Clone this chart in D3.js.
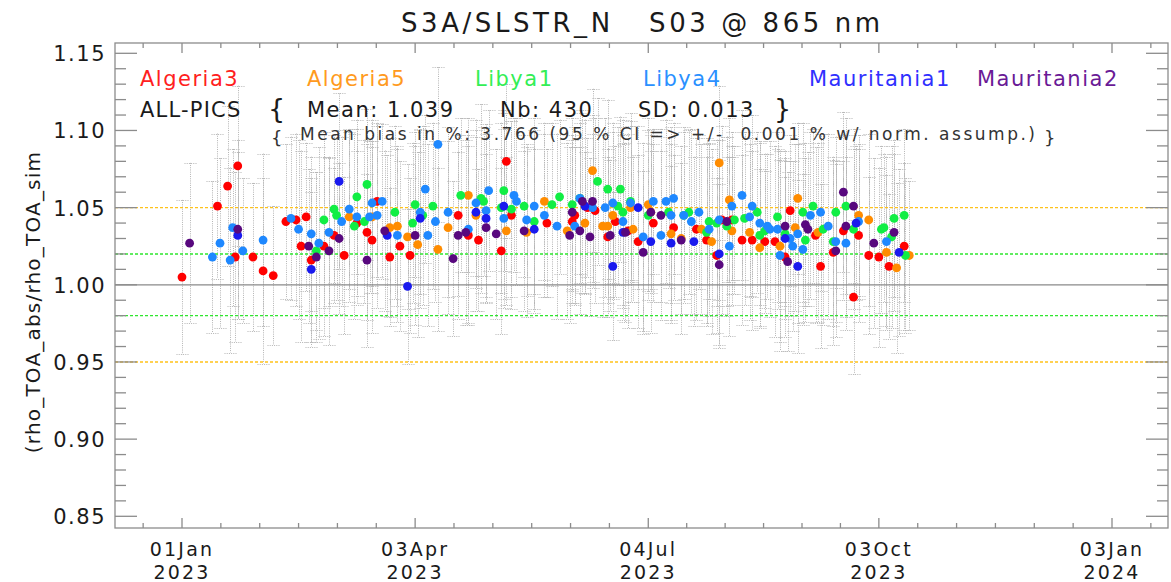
<!DOCTYPE html>
<html><head><meta charset="utf-8">
<script src="https://cdn.jsdelivr.net/npm/d3@7"></script>
<style>body{margin:0;background:#fff}svg{display:block}text{font-family:"DejaVu Sans",sans-serif}</style>
</head><body><svg id="c" width="1171" height="582"></svg>
<script>
// ---- data: [daysSince 01Jan2023, ratio, uncertainty]
const algeria3 = [[0,1.005,0.050],[14,1.051,0.047],[18,1.064,0.052],[22,1.077,0.052],[21,1.018,0.055],[28,1.018,0.048],[32,1.009,0.060],[36,1.006,0.045],[41,1.041,0.050],[45,1.042,0.056],[47,1.025,0.062],[49,1.044,0.048],[51,1.016,0.053],[56,1.025,0.058],[60,1.032,0.044],[64,1.019,0.051],[69,1.040,0.047],[73,1.034,0.057],[75,1.029,0.060],[77,1.054,0.049],[82,1.018,0.045],[86,1.025,0.055],[90,1.019,0.050],[109,1.045,0.052],[113,1.032,0.058],[117,1.029,0.046],[126,1.022,0.054],[128,1.080,0.050],[130,1.045,0.061],[144,1.040,0.048],[154,1.041,0.053],[155,1.045,0.057],[160,1.050,0.045],[163,1.048,0.060],[168,1.031,0.052],[171,1.041,0.049],[176,1.035,0.063],[180,1.028,0.056],[186,1.040,0.051],[194,1.037,0.047],[203,1.036,0.059],[207,1.029,0.054],[211,1.019,0.050],[213,1.042,0.061],[217,1.042,0.048],[221,1.029,0.055],[225,1.029,0.058],[230,1.028,0.046],[234,1.028,0.062],[238,1.018,0.052],[240,1.048,0.049],[250,1.032,0.057],[252,1.012,0.053],[257,1.021,0.060],[261,1.035,0.045],[265,0.992,0.050],[267,1.032,0.056],[271,1.019,0.051],[275,1.018,0.058],[279,1.012,0.047],[285,1.025,0.054]];
const algeria5 = [[66,1.044,0.055],[75,1.044,0.049],[82,1.037,0.058],[85,1.038,0.052],[89,1.031,0.047],[93,1.026,0.060],[101,1.023,0.053],[105,1.037,0.056],[113,1.058,0.050],[116,1.045,0.062],[128,1.035,0.048],[136,1.034,0.055],[143,1.054,0.051],[152,1.035,0.057],[159,1.040,0.046],[162,1.074,0.053],[166,1.038,0.059],[168,1.038,0.050],[170,1.045,0.054],[177,1.050,0.061],[178,1.036,0.047],[184,1.052,0.056],[185,1.047,0.052],[193,1.033,0.058],[197,1.030,0.049],[205,1.036,0.055],[209,1.028,0.060],[212,1.079,0.050],[216,1.055,0.053],[217,1.035,0.048],[224,1.034,0.057],[228,1.024,0.051],[236,1.025,0.062],[242,1.037,0.054],[243,1.056,0.049],[251,1.034,0.058],[267,1.045,0.052],[271,1.042,0.056],[278,1.021,0.050],[282,1.011,0.055],[287,1.019,0.048]];
const libya1 = [[53,1.022,0.051],[56,1.042,0.057],[60,1.049,0.048],[61,1.045,0.055],[68,1.038,0.060],[69,1.057,0.050],[72,1.041,0.053],[73,1.065,0.049],[84,1.047,0.056],[91,1.040,0.052],[92,1.052,0.047],[95,1.045,0.058],[99,1.051,0.054],[110,1.058,0.050],[118,1.056,0.061],[119,1.054,0.048],[126,1.050,0.055],[127,1.061,0.052],[130,1.049,0.057],[135,1.051,0.046],[139,1.041,0.059],[146,1.052,0.053],[149,1.057,0.050],[154,1.052,0.056],[157,1.056,0.049],[164,1.067,0.054],[168,1.062,0.058],[172,1.051,0.051],[173,1.062,0.047],[174,1.047,0.060],[177,1.054,0.052],[184,1.045,0.055],[192,1.047,0.049],[198,1.045,0.057],[200,1.047,0.053],[207,1.034,0.061],[208,1.041,0.050],[211,1.040,0.054],[215,1.038,0.058],[218,1.042,0.048],[222,1.043,0.056],[227,1.047,0.052],[228,1.032,0.060],[230,1.035,0.050],[235,1.044,0.055],[238,1.033,0.047],[245,1.047,0.058],[246,1.029,0.053],[249,1.051,0.050],[253,1.036,0.062],[257,1.028,0.055],[258,1.047,0.049],[262,1.051,0.057],[265,1.036,0.052],[276,1.036,0.054],[277,1.037,0.048],[280,1.031,0.059],[281,1.043,0.051],[285,1.045,0.056],[285.5,1.019,0.050]];
const libya4 = [[12,1.018,0.049],[15,1.027,0.055],[19,1.016,0.060],[20,1.037,0.051],[24,1.022,0.047],[32,1.029,0.056],[43,1.043,0.053],[46,1.036,0.058],[51,1.033,0.050],[54,1.027,0.062],[58,1.034,0.048],[63,1.041,0.055],[66,1.049,0.052],[69,1.044,0.057],[74,1.044,0.049],[75,1.053,0.054],[77,1.045,0.060],[79,1.054,0.050],[85,1.032,0.056],[94,1.047,0.053],[96,1.062,0.048],[97,1.032,0.059],[100,1.041,0.052],[101,1.091,0.050],[105,1.047,0.055],[113,1.036,0.061],[116,1.053,0.047],[120,1.048,0.056],[121,1.061,0.052],[127,1.043,0.058],[131,1.058,0.050],[132,1.054,0.054],[136,1.042,0.049],[139,1.051,0.057],[143,1.045,0.053],[148,1.038,0.060],[155,1.038,0.051],[157,1.056,0.055],[162,1.050,0.048],[167,1.050,0.058],[170,1.053,0.052],[174,1.041,0.056],[177,1.053,0.050],[182,1.031,0.061],[186,1.054,0.047],[189,1.032,0.055],[191,1.054,0.053],[193,1.045,0.057],[194,1.056,0.049],[198,1.045,0.054],[201,1.041,0.060],[204,1.047,0.050],[208,1.036,0.056],[212,1.042,0.052],[216,1.025,0.058],[217,1.051,0.048],[221,1.058,0.055],[224,1.044,0.051],[225,1.051,0.059],[228,1.040,0.053],[231,1.038,0.047],[232,1.036,0.057],[235,1.036,0.052],[236,1.019,0.062],[240,1.030,0.050],[241,1.025,0.055],[243,1.033,0.058],[245,1.023,0.049],[248,1.045,0.054],[252,1.047,0.051],[255,1.038,0.060],[258,1.028,0.052],[262,1.027,0.056],[267,1.041,0.050],[278,1.028,0.055]];
const mauritania1 = [[22,1.032,0.054],[51,1.010,0.050],[62,1.067,0.057],[81,1.032,0.052],[89,0.999,0.050],[94,1.043,0.058],[116,1.047,0.049],[120,1.043,0.055],[127,1.051,0.060],[139,1.036,0.052],[159,1.051,0.056],[170,1.012,0.048],[174,1.034,0.057],[180,1.050,0.053],[185,1.028,0.059],[193,1.027,0.050],[202,1.028,0.055],[212,1.020,0.061],[238,1.030,0.052],[243,1.012,0.056],[266,1.040,0.050],[283,1.021,0.054]];
const mauritania2 = [[3,1.027,0.052],[22,1.036,0.058],[50,1.025,0.050],[53,1.018,0.055],[58,1.022,0.061],[62,1.030,0.049],[73,1.016,0.056],[80,1.035,0.052],[92,1.032,0.058],[107,1.017,0.050],[109,1.032,0.054],[112,1.034,0.060],[120,1.037,0.048],[124,1.033,0.055],[135,1.035,0.052],[153,1.032,0.057],[154,1.047,0.050],[157,1.035,0.054],[158,1.054,0.059],[161,1.031,0.051],[162,1.054,0.056],[169,1.032,0.049],[175,1.034,0.058],[182,1.021,0.053],[185,1.047,0.050],[189,1.045,0.056],[197,1.029,0.061],[212,1.013,0.052],[215,1.041,0.055],[238,1.038,0.049],[239,1.015,0.058],[246,1.039,0.053],[247,1.036,0.050],[258,1.022,0.056],[261,1.060,0.052],[262,1.038,0.059],[265,1.051,0.050],[273,1.027,0.055],[281,1.034,0.051]];

const siteNames = ["Algeria3","Algeria5","Libya1","Libya4","Mauritania1","Mauritania2"];
const siteColors = ["#ff0000","#ff8c00","#11ee44","#1e88ff","#1a1aee","#58087e"];
const legendColors = ["#ff2020","#ff9a20","#33ee55","#2a90ff","#3030ff","#6a1a96"];
const seriesList = [algeria3, algeria5, libya1, libya4, mauritania1, mauritania2];

const yTickValues = [0.85,0.90,0.95,1.00,1.05,1.10,1.15];
const xTickDates = ["2023-01-01","2023-04-03","2023-07-04","2023-10-03","2024-01-03"];
const xTickLine1 = ["01Jan","03Apr","04Jul","03Oct","03Jan"];
const xTickLine2 = ["2023","2023","2023","2023","2024"];
const refLines = [{v:1.05,c:"#ffc21a"},{v:0.95,c:"#ffc21a"},{v:1.02,c:"#2ee62e"},{v:0.98,c:"#2ee62e"}];

const titleText = "S3A/SLSTR_N   S03 @ 865 nm";
const yLabel = "(rho_TOA_abs/rho_TOA_sim";
const statsMean = "Mean: 1.039", statsNb = "Nb: 430", statsSD = "SD: 0.013";
const biasText = "Mean bias in %: 3.766 (95 % CI => +/-  0.001 % w/ norm. assump.)";

// ---- layout
const L=115, R=1168, T=43, B=528;
const svg = d3.select("#c");
const day0 = Date.UTC(2023,0,1);
const toDate = d => new Date(day0 + d*86400000);
const parse = d3.utcParse("%Y-%m-%d");
const majors = xTickDates.map(parse);
const x = d3.scaleUtc().domain([majors[0], majors[4]]).range([182,1112]);
const y = d3.scaleLinear().domain([0.85,1.15]).range([516.3,53.3]);

// minor x ticks (6 intervals per major)
const minorX = [];
for (let i=-1;i<=4;i++){
  const a = i<0 ? majors[0].getTime() - (majors[1]-majors[0]) : majors[i].getTime();
  const b = i<4 ? majors[i+1].getTime() : majors[4].getTime() + (majors[4]-majors[3]);
  for (let k=1;k<6;k++){ const t=new Date(a+(b-a)*k/6); const px=x(t); if(px>L+1&&px<R-1) minorX.push(t); }
}
const minorY = d3.range(85,116).map(v=>v/100).filter(v=>Math.round(v*100)%5!==0);

const g = svg.append("g");
const axisCol = "#8c8c8c";

// error bars
const allPts = [];
seriesList.forEach((s,si)=>s.forEach(p=>allPts.push({si, d:p[0], v:p[1], e:p[2]})));
const eb = g.append("g").attr("stroke","#b4b4b4").attr("stroke-width",1).attr("stroke-dasharray","1,1.2").attr("fill","none");
allPts.forEach(p=>{
  const px = Math.round(x(toDate(p.d)))+0.5;
  const y1 = y(p.v+p.e), y2 = y(p.v-p.e);
  eb.append("line").attr("x1",px).attr("x2",px).attr("y1",y1).attr("y2",y2);
  eb.append("line").attr("x1",px-6).attr("x2",px+6).attr("y1",Math.round(y1)+0.5).attr("y2",Math.round(y1)+0.5);
  eb.append("line").attr("x1",px-6).attr("x2",px+6).attr("y1",Math.round(y2)+0.5).attr("y2",Math.round(y2)+0.5);
});

// reference lines
g.append("line").attr("x1",L).attr("x2",R).attr("y1",y(1)).attr("y2",y(1)).attr("stroke","#8a8a8a").attr("stroke-width",1.2);
refLines.forEach(r=>{
  g.append("line").attr("x1",L).attr("x2",R).attr("y1",y(r.v)).attr("y2",y(r.v))
   .attr("stroke",r.c).attr("stroke-width",1.4).attr("stroke-dasharray","3,2");
});

// points
seriesList.forEach((s,si)=>{
  g.append("g").selectAll("circle").data(s).join("circle")
   .attr("cx",p=>x(toDate(p[0]))).attr("cy",p=>y(p[1])).attr("r",4.4)
   .attr("fill",siteColors[si]);
});

// frame
g.append("rect").attr("x",L).attr("y",T).attr("width",R-L).attr("height",B-T)
 .attr("fill","none").attr("stroke",axisCol).attr("stroke-width",1.3);

// y ticks (left and right)
const yt = g.append("g").attr("stroke",axisCol).attr("stroke-width",1.3);
yTickValues.forEach(v=>{
  yt.append("line").attr("x1",L).attr("x2",L+22).attr("y1",y(v)).attr("y2",y(v));
  yt.append("line").attr("x1",R).attr("x2",R-22).attr("y1",y(v)).attr("y2",y(v));
});
minorY.forEach(v=>{
  yt.append("line").attr("x1",L).attr("x2",L+11).attr("y1",y(v)).attr("y2",y(v));
  yt.append("line").attr("x1",R).attr("x2",R-11).attr("y1",y(v)).attr("y2",y(v));
});
// x ticks (bottom and top)
majors.forEach(t=>{
  yt.append("line").attr("x1",x(t)).attr("x2",x(t)).attr("y1",B).attr("y2",B-10);
  yt.append("line").attr("x1",x(t)).attr("x2",x(t)).attr("y1",T).attr("y2",T+10);
});
minorX.forEach(t=>{
  yt.append("line").attr("x1",x(t)).attr("x2",x(t)).attr("y1",B).attr("y2",B-5);
  yt.append("line").attr("x1",x(t)).attr("x2",x(t)).attr("y1",T).attr("y2",T+5);
});

// tick labels
const txtCol = "#1a1a1a";
yTickValues.forEach(v=>{
  svg.append("text").attr("x",106).attr("y",y(v)+8).attr("text-anchor","end")
   .attr("font-size",21).attr("letter-spacing",1.5).attr("fill",txtCol).text(d3.format(".2f")(v));
});
majors.forEach((t,i)=>{
  svg.append("text").attr("x",x(t)).attr("y",556).attr("text-anchor","middle")
   .attr("font-size",19).attr("letter-spacing",2.2).attr("fill",txtCol).text(xTickLine1[i]);
  svg.append("text").attr("x",x(t)).attr("y",579).attr("text-anchor","middle")
   .attr("font-size",19).attr("letter-spacing",2.2).attr("fill",txtCol).text(xTickLine2[i]);
});

// title
svg.append("text").attr("x",401).attr("y",32).attr("font-size",26)
 .attr("textLength",479).attr("lengthAdjust","spacing")
 .attr("fill",txtCol).style("white-space","pre").text(titleText);

// y label
svg.append("text").attr("transform","translate(40,302) rotate(-90)").attr("text-anchor","middle")
 .attr("font-size",20).attr("letter-spacing",1.2).attr("fill",txtCol).text(yLabel);

// legend
const legendX = [140,307,475,643,809,977];
siteNames.forEach((n,i)=>{
  svg.append("text").attr("x",legendX[i]).attr("y",86).attr("font-size",21).attr("letter-spacing",1.5)
   .attr("fill",legendColors[i]).text(n);
});
// stats
svg.append("text").attr("x",140).attr("y",117).attr("font-size",21).attr("letter-spacing",1.2).attr("fill",txtCol).text("ALL-PICS");
svg.append("text").attr("x",268).attr("y",118).attr("font-size",27).attr("fill",txtCol).text("{");
svg.append("text").attr("x",307).attr("y",117).attr("font-size",21).attr("letter-spacing",1.5).attr("fill",txtCol).style("white-space","pre").text(statsMean);
svg.append("text").attr("x",500).attr("y",117).attr("font-size",21).attr("letter-spacing",1.5).attr("fill",txtCol).style("white-space","pre").text(statsNb);
svg.append("text").attr("x",638).attr("y",117).attr("font-size",21).attr("letter-spacing",1.5).attr("fill",txtCol).style("white-space","pre").text(statsSD);
svg.append("text").attr("x",774).attr("y",118).attr("font-size",27).attr("fill",txtCol).text("}");
svg.append("text").attr("x",271).attr("y",144).attr("font-size",18).attr("fill","#333").text("{");
svg.append("text").attr("x",300).attr("y",140).attr("font-size",17)
 .attr("textLength",735).attr("lengthAdjust","spacing")
 .attr("fill","#333").style("white-space","pre").text(biasText);
svg.append("text").attr("x",1044).attr("y",144).attr("font-size",18).attr("fill","#333").text("}");
</script></body></html>
